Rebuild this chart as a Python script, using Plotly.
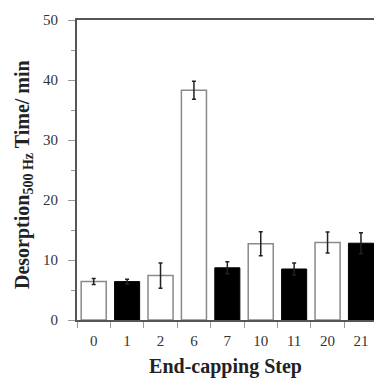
import plotly.graph_objects as go

categories = ["0", "1", "2", "6", "7", "10", "11", "20", "21"]
open_steps = ["0", "2", "6", "10", "20"]
open_values = [6.4, 7.4, 38.3, 12.7, 12.9]
open_errors = [0.5, 2.1, 1.5, 2.0, 1.75]
filled_steps = ["1", "7", "11", "21"]
filled_values = [6.4, 8.7, 8.5, 12.8]
filled_errors = [0.4, 1.0, 1.0, 1.75]

FONT = "Liberation Serif, serif"
AX = "#555555"

fig = go.Figure()
fig.add_trace(go.Bar(
    x=open_steps, y=open_values, width=0.75,
    marker=dict(color="white", line=dict(color="#8a8a8a", width=1.5)),
    error_y=dict(type="data", array=open_errors, color="#222", thickness=1.5, width=2),
))
fig.add_trace(go.Bar(
    x=filled_steps, y=filled_values, width=0.75,
    marker=dict(color="black", line=dict(color="black", width=1)),
    error_y=dict(type="data", array=filled_errors, color="#222", thickness=1.5, width=2),
))

fig.update_layout(
    width=374, height=380,
    margin=dict(l=77, r=0, t=20, b=60),
    paper_bgcolor="white", plot_bgcolor="white",
    barmode="overlay", showlegend=False,
    font=dict(family=FONT, color="#222", size=15),
)
fig.update_xaxes(
    type="category", categoryorder="array", categoryarray=categories,
    range=[-0.5, 8.39], tickson="boundaries",
    ticks="outside", ticklen=6, tickcolor="#999", tickwidth=1,
    showline=True, linecolor=AX, linewidth=2, mirror=True,
    showgrid=False, tickfont=dict(size=15, family=FONT, color="#333"),
    ticklabelstandoff=6,
    title=dict(text="<b>End-capping Step</b>", font=dict(size=20, family=FONT, color="#222"), standoff=11),
)
fig.update_yaxes(
    range=[0, 50], tickvals=[0, 10, 20, 30, 40, 50],
    ticks="outside", ticklen=7, tickcolor="#999", tickwidth=1,
    minor=dict(tickvals=[5, 15, 25, 35, 45], ticks="outside", ticklen=4, tickcolor="#999", tickwidth=1),
    showline=True, linecolor=AX, linewidth=2,
    showgrid=False, zeroline=False, tickfont=dict(size=15, family=FONT, color="#333"),
    ticklabelstandoff=7,
)
fig.add_annotation(
    text="<b>Desorption<sub>500 Hz</sub> Time/ min</b>",
    textangle=-90, xref="paper", yref="paper",
    x=-(77 - 24) / 297, y=(320 - 175) / 300, xanchor="center", yanchor="middle",
    showarrow=False, font=dict(size=20, family=FONT, color="#222"),
)

fig.write_html("out.html")
